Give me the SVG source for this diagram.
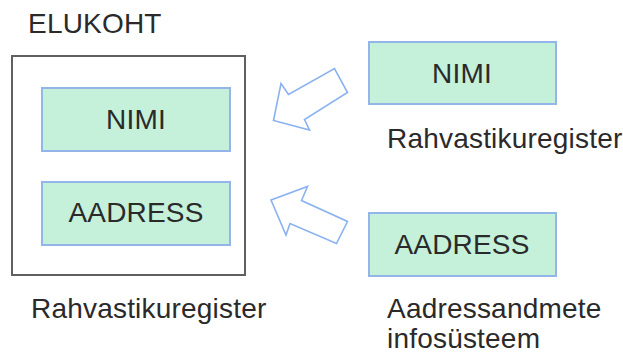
<svg xmlns="http://www.w3.org/2000/svg" width="623" height="355" viewBox="0 0 623 355">
<style>
  text { font-family: "Liberation Sans", Arial, sans-serif; font-size: 28px; letter-spacing: 0.2px; fill: #2a2a2a; }
  .field { fill: #c5f1db; stroke: #93b5ea; stroke-width: 2; }
  .container { fill: #ffffff; stroke: #606060; stroke-width: 2; }
  .arrow { fill: #ffffff; stroke: #8ab2f0; stroke-width: 1.6; stroke-linejoin: miter; }
  .c { text-anchor: middle; }
</style>
<rect width="623" height="355" fill="#ffffff"/>
<g id="elukoht">
  <text x="28" y="33">ELUKOHT</text>
  <rect class="container" x="12" y="56" width="233" height="219"/>
  <text x="31" y="318">Rahvastikuregister</text>
</g>
<g id="elukoht-nimi">
  <rect class="field" x="42" y="88" width="188" height="63"/>
  <text class="c" x="136" y="129">NIMI</text>
</g>
<g id="elukoht-aadress">
  <rect class="field" x="42" y="182" width="188" height="63"/>
  <text class="c" x="136" y="222">AADRESS</text>
</g>
<g id="src-nimi">
  <rect class="field" x="369" y="42" width="187" height="62"/>
  <text class="c" x="462" y="83">NIMI</text>
  <text x="387" y="148">Rahvastikuregister</text>
</g>
<g id="src-aadress">
  <rect class="field" x="369" y="213" width="187" height="63"/>
  <text class="c" x="462" y="254">AADRESS</text>
  <text x="387" y="318">Aadressandmete</text>
  <text x="387" y="348">infosüsteem</text>
</g>
<g id="connectors">
  <polygon class="arrow" points="273.5,120.5 281,83.5 288.5,94.5 334.5,68.5 347.5,92.5 304.5,119.5 309.5,130"/>
  <polygon class="arrow" points="271,200 307.5,186.5 301.5,200.5 347.5,221.5 336.5,243.5 290,223.5 286,235"/>
</g>
</svg>
